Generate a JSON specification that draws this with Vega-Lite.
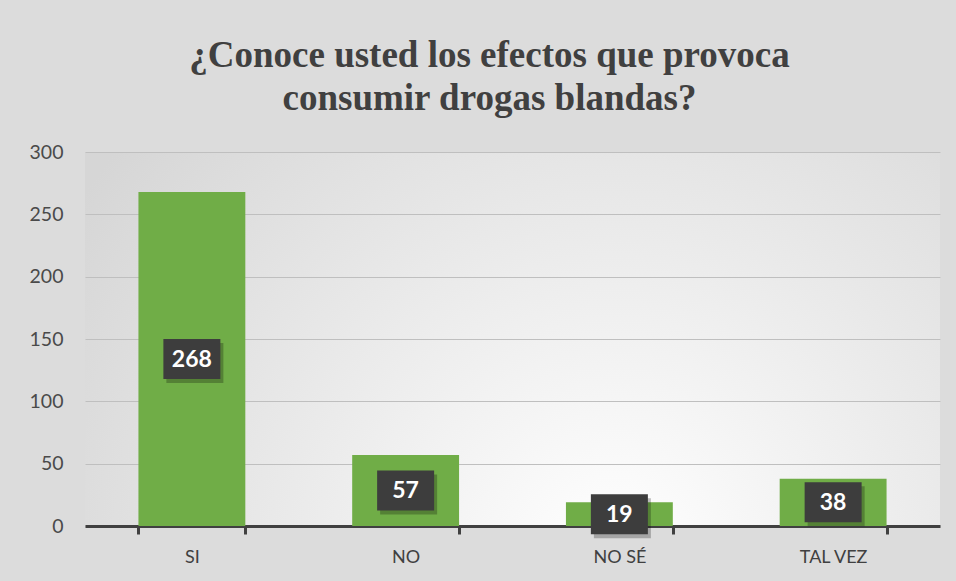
{
  "$schema": "https://vega.github.io/schema/vega-lite/v6.json",
  "width": 855,
  "height": 374,
  "autosize": "none",
  "padding": {"left": 85, "top": 152, "right": 16, "bottom": 55},
  "background": "#dcdcdc",
  "view": {"stroke": null, "fill": {"gradient": "radial", "x1": 0.62, "y1": 0.75, "r1": 0, "x2": 0.62, "y2": 0.75, "r2": 0.75, "stops": [{"offset": 0, "color": "#ffffff"}, {"offset": 1, "color": "#d6d6d6"}]}},
  "title": {
    "text": ["¿Conoce usted los efectos que provoca", "consumir drogas blandas?"],
    "font": "'Liberation Serif', 'Times New Roman', 'DejaVu Serif', serif",
    "fontSize": 37,
    "fontWeight": "bold",
    "color": "#404040",
    "lineHeight": 43,
    "anchor": "middle",
    "dx": -23,
    "offset": 24
  },
  "data": {
    "values": [
      {"respuesta": "SI", "cantidad": 268},
      {"respuesta": "NO", "cantidad": 57},
      {"respuesta": "NO SÉ", "cantidad": 19},
      {"respuesta": "TAL VEZ", "cantidad": 38}
    ]
  },
  "encoding": {
    "x": {
      "field": "respuesta",
      "type": "nominal",
      "sort": null,
      "scale": {"paddingInner": 0.5, "paddingOuter": 0.25},
      "axis": {
        "title": null,
        "labelAngle": 0,
        "labelFont": "Lato",
        "labelFontSize": 18,
        "labelColor": "#404040",
        "labelPadding": 14,
        "domainColor": "#404040",
        "domainWidth": 3,
        "tickColor": "#404040",
        "tickWidth": 3,
        "tickSize": 8,
        "tickBand": "extent",
        "grid": false
      }
    }
  },
  "layer": [
    {
      "mark": {"type": "bar", "color": "#70AD47"},
      "encoding": {
        "y": {
          "field": "cantidad",
          "type": "quantitative",
          "scale": {"domain": [0, 300]},
          "axis": {
            "title": null,
            "values": [0, 50, 100, 150, 200, 250, 300],
            "labelFont": "Lato",
            "labelFontSize": 19.5,
            "labelColor": "#4a4a4a",
            "labelPadding": 22,
            "domain": false,
            "ticks": false,
            "gridColor": "#bfbfbf",
            "gridWidth": 1.2
          }
        }
      }
    },
    {
      "encoding": {
        "y": {
          "field": "cantidad",
          "type": "quantitative",
          "scale": {"domain": [0, 600]},
          "axis": null
        }
      },
      "layer": [
        {
          "mark": {"type": "point", "shape": "M-1.425,-1L1.425,-1L1.425,1L-1.425,1Z", "size": 1600, "filled": true, "color": "#000000", "opacity": 0.25, "xOffset": 3, "yOffset": 4}
        },
        {
          "mark": {"type": "point", "shape": "M-1.425,-1L1.425,-1L1.425,1L-1.425,1Z", "size": 1600, "filled": true, "color": "#3d3d3d", "opacity": 1}
        },
        {
          "mark": {"type": "text", "font": "Lato", "fontSize": 23, "fontWeight": "bold", "color": "#ffffff", "baseline": "middle", "dy": 1},
          "encoding": {"text": {"field": "cantidad", "type": "quantitative"}}
        }
      ]
    }
  ],
  "resolve": {"scale": {"y": "independent"}}
}
